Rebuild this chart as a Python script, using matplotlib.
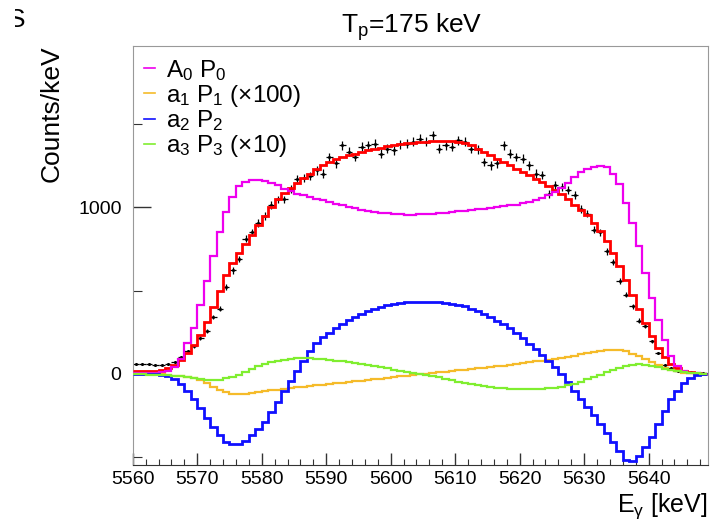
import numpy as np
import matplotlib
matplotlib.use("Agg")
import matplotlib.pyplot as plt
from matplotlib.ticker import MultipleLocator
from matplotlib.patches import Rectangle

plt.rcParams['font.family'] = ['Liberation Sans', 'DejaVu Sans']
plt.rcParams['mathtext.fontset'] = 'custom'
plt.rcParams['mathtext.rm'] = 'Liberation Sans'
plt.rcParams['mathtext.it'] = 'Liberation Sans'

# 1 keV bins, 5560 .. 5649
e_lo = 5560
n_bins = 89

data = [62, 60, 62, 52, 55, 62, 72, 100, 135, 165,
        215, 255, 340, 390, 520, 620, 690, 810, 850, 905,
        945, 1010, 1045, 1045, 1110, 1165, 1175, 1185, 1220, 1200,
        1300, 1262, 1370, 1330, 1300, 1360, 1370, 1380, 1320, 1350,
        1340, 1375, 1380, 1390, 1410, 1390, 1430, 1350, 1370, 1360,
        1400, 1390, 1350, 1345, 1270, 1250, 1262, 1370, 1320, 1300,
        1290, 1250, 1200, 1190, 1080, 1130, 1120, 1100, 1070, 990,
        960, 865, 850, 735, 670, 555, 475, 405, 320, 285,
        195, 125, 55, 35, 20, 15, 10, 5, 3]

fit_sum = [15, 15, 16, 18, 22, 35, 55, 85, 125, 175,
           235, 310, 400, 500, 590, 665, 725, 780, 835, 890,
           945, 1000, 1045, 1085, 1115, 1145, 1175, 1200, 1225, 1250,
           1270, 1285, 1300, 1310, 1320, 1330, 1340, 1348, 1356, 1363,
           1370, 1376, 1381, 1385, 1388, 1391, 1393, 1394, 1394, 1393,
           1390, 1382, 1370, 1350, 1330, 1310, 1290, 1270, 1250, 1230,
           1210, 1190, 1170, 1150, 1125, 1100, 1075, 1045, 1015, 985,
           950, 905, 855, 795, 725, 645, 560, 475, 390, 305,
           225, 155, 100, 60, 35, 18, 9, 4, 2]

a0p0 = [5, 5, 5, 6, 10, 20, 40, 90, 185, 275,
        415, 555, 705, 850, 970, 1060, 1125, 1150, 1160, 1160,
        1155, 1145, 1130, 1110, 1095, 1080, 1070, 1060, 1050, 1040,
        1030, 1020, 1010, 1000, 992, 985, 978, 972, 966, 962,
        958, 956, 955, 955, 956, 958, 960, 963, 966, 970,
        974, 978, 982, 986, 990, 995, 1000, 1005, 1010, 1015,
        1022, 1030, 1040, 1055, 1070, 1090, 1115, 1145, 1180, 1210,
        1230, 1242, 1245, 1238, 1200, 1135, 1025, 905, 765, 605,
        455, 325, 205, 110, 50, 20, 8, 3, 1]

a1p1_x100 = [0, 0, 0, -1, -3, -6, -10, -15, -20, -25,
             -35, -55, -75, -95, -110, -118, -120, -120, -116, -110,
             -104, -98, -93, -88, -84, -79, -75, -71, -67, -63,
             -59, -55, -51, -47, -43, -39, -35, -31, -27, -23,
             -19, -15, -11, -7, -3, 1, 5, 9, 13, 17,
             21, 25, 29, 33, 37, 41, 45, 50, 55, 60,
             65, 70, 75, 80, 86, 92, 98, 104, 110, 117,
             124, 131, 138, 143, 145, 143, 135, 122, 105, 88,
             70, 52, 37, 25, 15, 8, 4, 2, 1]

a2p2 = [0, 0, -1, -3, -8, -15, -30, -60, -100, -150,
        -205, -265, -315, -365, -405, -420, -420, -400, -365, -330,
        -285, -225, -165, -100, -40, 20, 80, 140, 185, 220,
        245, 275, 300, 322, 342, 360, 377, 392, 403, 412,
        420, 425, 430, 432, 432, 432, 431, 429, 426, 422,
        415, 405, 390, 375, 360, 340, 320, 300, 275, 245,
        215, 180, 150, 115, 80, 40, 0, -45, -100, -150,
        -195, -245, -300, -355, -405, -460, -515, -520, -490, -440,
        -375, -300, -220, -150, -100, -55, -22, -8, -3]

a3p3_x10 = [-3, -3, -4, -5, -6, -8, -10, -13, -17, -22,
            -28, -33, -36, -33, -26, -16, -4, 12, 30, 48,
            62, 73, 80, 86, 90, 93, 94, 94, 92, 88,
            84, 80, 76, 72, 66, 60, 54, 47, 40, 33,
            26, 20, 13, 7, 1, -6, -13, -20, -28, -36,
            -45, -53, -60, -66, -72, -77, -82, -86, -89, -91,
            -92, -92, -91, -89, -86, -82, -76, -68, -58, -46,
            -32, -18, -4, 10, 23, 36, 47, 55, 58, 56,
            48, 40, 32, 24, 18, 12, 8, 4, 2]

edges = np.arange(e_lo, e_lo + n_bins + 1)
centers = edges[:-1] + 0.5
data = np.array(data)
yerr = 0.73 * np.sqrt(np.maximum(data, 1))  # poisson-ish bars

fig = plt.figure(figsize=(7.12, 5.23), dpi=100)
ax = fig.add_axes([0.1864, 0.1109, 0.808, 0.8017])

ax.errorbar(centers, data, xerr=0.5, yerr=yerr, fmt='o', ms=1.2, color='black',
            elinewidth=0.9, capsize=0, zorder=2)
ax.stairs(fit_sum, edges, baseline=None, color='#ff0000', lw=2.0, zorder=3)
ax.stairs(a0p0, edges, baseline=None, color='#ee00ee', lw=1.6, zorder=4, label='A$_0$ P$_0$')
ax.stairs(a1p1_x100, edges, baseline=None, color='#f5bb2a', lw=1.6, zorder=4, label='a$_1$ P$_1$ (\u00d7100)')
ax.stairs(a2p2, edges, baseline=None, color='#1010ff', lw=2.0, zorder=4, label='a$_2$ P$_2$')
ax.stairs(a3p3_x10, edges, baseline=None, color='#80ee30', lw=1.6, zorder=4, label='a$_3$ P$_3$ (\u00d710)')

ax.set_xlim(5560, 5649.2)
ax.set_ylim(-545, 1966)
ax.xaxis.set_major_locator(MultipleLocator(10))
ax.xaxis.set_minor_locator(MultipleLocator(2))
ax.yaxis.set_major_locator(MultipleLocator(1000))
ax.yaxis.set_minor_locator(MultipleLocator(500))
ax.tick_params(axis='x', which='major', direction='in', length=8.6, width=1, colors='#333333',
               labelsize=14, labelcolor='black', pad=4)
ax.tick_params(axis='x', which='minor', direction='in', length=4.3, width=0.8, colors='#333333')
ax.tick_params(axis='y', which='major', direction='in', length=13, width=1, colors='#333333',
               labelsize=14, labelcolor='black', pad=8)
ax.tick_params(axis='y', which='minor', direction='in', length=6.5, width=0.8, colors='#333333')
for s in ['top', 'right', 'left']:
    ax.spines[s].set_color('#999999')
ax.spines['bottom'].set_color('#333333')

fig.text(0.578, 0.948, 'T$_\\mathregular{p}$=175 keV', fontsize=19, ha='center', va='center')
fig.text(0.072, 0.913, 'Counts/keV', rotation=90, fontsize=19, ha='center', va='top')
fig.text(0.994, 0.004, 'E$_{\\gamma}$ [keV]', fontsize=18, ha='right', va='bottom')

leg = ax.legend(loc='upper left', bbox_to_anchor=(-0.01, 1.012), frameon=False, fontsize=17.5,
                handlelength=0.45, handletextpad=0.45, labelspacing=0.0, borderaxespad=0.3)
for h in leg.get_lines():
    h.set_linewidth(1.2)

# partly hidden panel letter at the very top left
fig.text(0.0112, 0.985, 'S', fontsize=19, ha='left', va='top')
fig.patches.append(Rectangle((0, 0.9), 0.021, 0.1, transform=fig.transFigure,
                             facecolor='white', edgecolor='none', zorder=5))

fig.savefig('out.png', dpi=100)
